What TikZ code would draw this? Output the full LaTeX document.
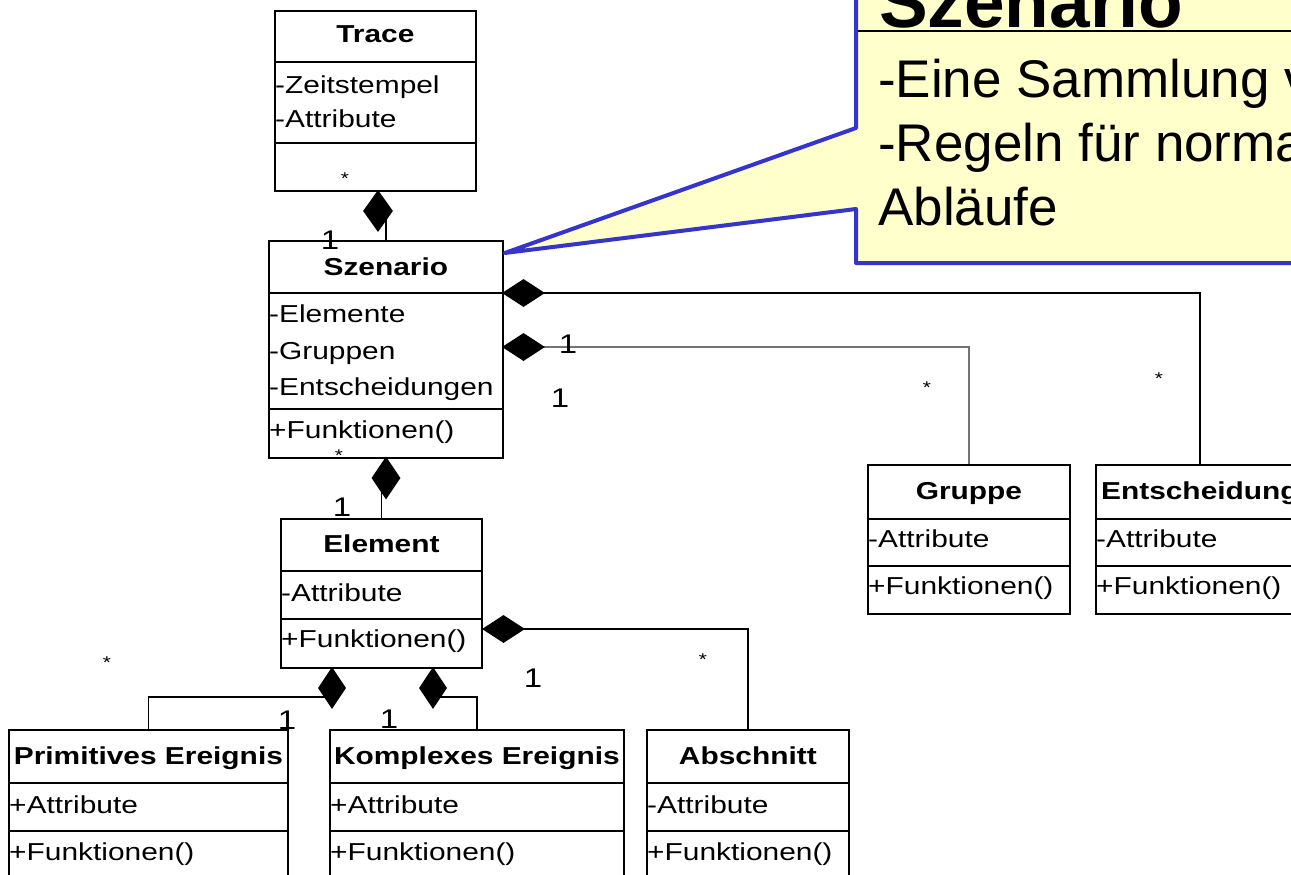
\documentclass[tikz,border=0pt]{standalone}
\usepackage{fontspec}
\setmainfont{Liberation Sans}
\newfontfamily\umlfont[FakeStretch=1.22]{Liberation Sans}
\usetikzlibrary{calc,shapes.geometric}
\definecolor{noteyellow}{HTML}{FFFFCC}
\definecolor{noteblue}{HTML}{3535CC}
\begin{document}
\begin{tikzpicture}[x=1pt,y=-1pt,
  cls/.style={draw=black, line width=1.8pt, rectangle, inner sep=0pt, anchor=north west},
  sepline/.style={draw=black, line width=1.8pt},
  conn/.style={draw=black, line width=1.7pt},
  grayconn/.style={draw=black!55, line width=2pt},
  ttl/.style={font=\umlfont\bfseries\fontsize{24.5}{29}\selectfont, text height=18pt, text depth=0pt, inner sep=0pt},
  attr/.style={font=\umlfont\fontsize{24.5}{29}\selectfont, text height=18pt, text depth=0pt, inner ysep=0pt, inner xsep=1pt, anchor=west},
  mult/.style={font=\umlfont\fontsize{27}{30}\selectfont, inner sep=0pt},
  star/.style={font=\umlfont\fontsize{17}{20}\selectfont, inner sep=0pt},
  vdia/.style={diamond, fill=black, inner sep=0pt, minimum width=29pt, minimum height=42pt},
  hdia/.style={diamond, fill=black, inner sep=0pt, minimum width=43pt, minimum height=28pt},
  note/.style={fill=noteyellow, draw=noteblue, line width=4pt, line join=round},
  notetext/.style={font=\fontsize{53}{63}\selectfont, inner sep=0pt, anchor=base west}
]
\useasboundingbox (0,0) rectangle (1291,875);
\clip (0,0) rectangle (1291,875);
\fill[white] (0,0) rectangle (1291,875);

% ---------- class boxes ----------
\node[cls, minimum width=201pt, minimum height=180pt] (trace) at (274,10) {};
\draw[sepline] (trace.west |- 0,62) -- (trace.east |- 0,62);
\draw[sepline] (trace.west |- 0,143) -- (trace.east |- 0,143);
\node[ttl] (traceT) at (trace.north |- 0,34) {Trace};
\node[attr] (traceA1) at (trace.west |- 0,84) {-Zeitstempel};
\node[attr] (traceA2) at (trace.west |- 0,118) {-Attribute};

\node[cls, minimum width=234pt, minimum height=217pt] (szen) at (268,240) {};
\draw[sepline] (szen.west |- 0,293) -- (szen.east |- 0,293);
\draw[sepline] (szen.west |- 0,409) -- (szen.east |- 0,409);
\node[ttl] (szenT) at (szen.north |- 0,266) {Szenario};
\node[attr] (szenA1) at (szen.west |- 0,313) {-Elemente};
\node[attr] (szenA2) at (szen.west |- 0,350) {-Gruppen};
\node[attr] (szenA3) at (szen.west |- 0,386) {-Entscheidungen};
\node[attr] (szenF) at (szen.west |- 0,429) {+Funktionen()};

\node[cls, minimum width=201pt, minimum height=149pt] (elem) at (280,518) {};
\draw[sepline] (elem.west |- 0,571) -- (elem.east |- 0,571);
\draw[sepline] (elem.west |- 0,619) -- (elem.east |- 0,619);
\node[ttl] (elemT) at (elem.north |- 0,543) {Element};
\node[attr] (elemA) at (elem.west |- 0,592) {-Attribute};
\node[attr] (elemF) at (elem.west |- 0,638) {+Funktionen()};

\node[cls, minimum width=202pt, minimum height=149pt] (grp) at (867,464) {};
\draw[sepline] (grp.west |- 0,519) -- (grp.east |- 0,519);
\draw[sepline] (grp.west |- 0,566) -- (grp.east |- 0,566);
\node[ttl] (grpT) at (grp.north |- 0,490) {Gruppe};
\node[attr] (grpA) at (grp.west |- 0,538) {-Attribute};
\node[attr] (grpF) at (grp.west |- 0,585) {+Funktionen()};

\node[cls, minimum width=208pt, minimum height=149pt] (ent) at (1095,464) {};
\draw[sepline] (ent.west |- 0,519) -- (ent.east |- 0,519);
\draw[sepline] (ent.west |- 0,566) -- (ent.east |- 0,566);
\node[ttl] (entT) at (ent.north |- 0,490) {Entscheidung};
\node[attr] (entA) at (ent.west |- 0,538) {-Attribute};
\node[attr] (entF) at (ent.west |- 0,585) {+Funktionen()};

\node[cls, minimum width=279pt, minimum height=150pt] (prim) at (8,729) {};
\draw[sepline] (prim.west |- 0,783) -- (prim.east |- 0,783);
\draw[sepline] (prim.west |- 0,831) -- (prim.east |- 0,831);
\node[ttl] (primT) at (prim.north |- 0,755) {Primitives Ereignis};
\node[attr] (primA) at (prim.west |- 0,804) {+Attribute};
\node[attr] (primF) at (prim.west |- 0,851) {+Funktionen()};

\node[cls, minimum width=294pt, minimum height=150pt] (komp) at (329,729) {};
\draw[sepline] (komp.west |- 0,783) -- (komp.east |- 0,783);
\draw[sepline] (komp.west |- 0,831) -- (komp.east |- 0,831);
\node[ttl] (kompT) at (komp.north |- 0,755) {Komplexes Ereignis};
\node[attr] (kompA) at (komp.west |- 0,804) {+Attribute};
\node[attr] (kompF) at (komp.west |- 0,851) {+Funktionen()};

\node[cls, minimum width=202pt, minimum height=150pt] (absch) at (646,729) {};
\draw[sepline] (absch.west |- 0,783) -- (absch.east |- 0,783);
\draw[sepline] (absch.west |- 0,831) -- (absch.east |- 0,831);
\node[ttl] (abschT) at (absch.north |- 0,755) {Abschnitt};
\node[attr] (abschA) at (absch.west |- 0,804) {-Attribute};
\node[attr] (abschF) at (absch.west |- 0,851) {+Funktionen()};

% ---------- composition diamonds ----------
\path (378,211) coordinate (p0) (386,478) coordinate (p6)
      (523.5,293) coordinate (p4) (523.5,347) coordinate (p5)
      (503.5,629) coordinate (p3) (332,688) coordinate (p1) (433,688) coordinate (p2);

% connectors
\draw[conn] (p0 -| szen.north) -- (szen.north);
\draw[conn] (p6 -| elem.north) -- (elem.north);
\draw[conn] (p4) -| (ent.north);
\draw[grayconn] (p5) -| (grp.north);
\draw[conn] (p3) -| (absch.north);
\draw[conn] ($(p1)+(0,9)$) -| (prim.north);
\draw[conn] ($(p2)+(0,9)$) -| (komp.north);

\node[vdia, minimum width=30pt] (d0) at (p0) {};
\node[vdia, minimum height=43pt] (d6) at (p6) {};
\node[hdia] (d4) at (p4) {};
\node[hdia] (d5) at (p5) {};
\node[hdia] (d3) at (p3) {};
\node[vdia, minimum width=28pt] (d1) at (p1) {};
\node[vdia, minimum width=28pt] (d2) at (p2) {};

% ---------- multiplicities ----------
\node[star] (m1) at (345,179) {*};
\node[mult] (m2) at (330,240) {1};
\node[star] (m3) at (339,456) {*};
\node[mult] (m4) at (568,344) {1};
\node[mult] (m5) at (560,398) {1};
\node[star] (m6) at (927,388) {*};
\node[star] (m7) at (1159,379) {*};
\node[mult] (m8) at (342,507) {1};
\node[mult] (m9) at (533,678) {1};
\node[star] (m10) at (703,660) {*};
\node[star] (m11) at (107,663) {*};
\node[mult] (m12) at (287,720) {1};
\node[mult] (m13) at (389,719) {1};

% ---------- note ----------
\coordinate (ptr) at ($(szen.north east)+(1,13)$);
\path[note] (856,-20) -- (856,128) -- (ptr) -- (856,209) -- (856,263)
  -- (1320,263) -- (1320,-20) -- cycle;
\node[inner sep=0pt, anchor=base west, font=\bfseries\fontsize{73}{80}\selectfont] (noteT) at (879,28) {Szenario};
\draw[black, line width=1.3pt] (858,31) -- (1320,31);
\node[notetext] (noteL1) at (878,98) {-Eine Sammlung von};
\node[notetext] (noteL2) at (878,161) {-Regeln für normale};
\node[notetext] (noteL3) at (878,225) {Abläufe};
\end{tikzpicture}
\end{document}
